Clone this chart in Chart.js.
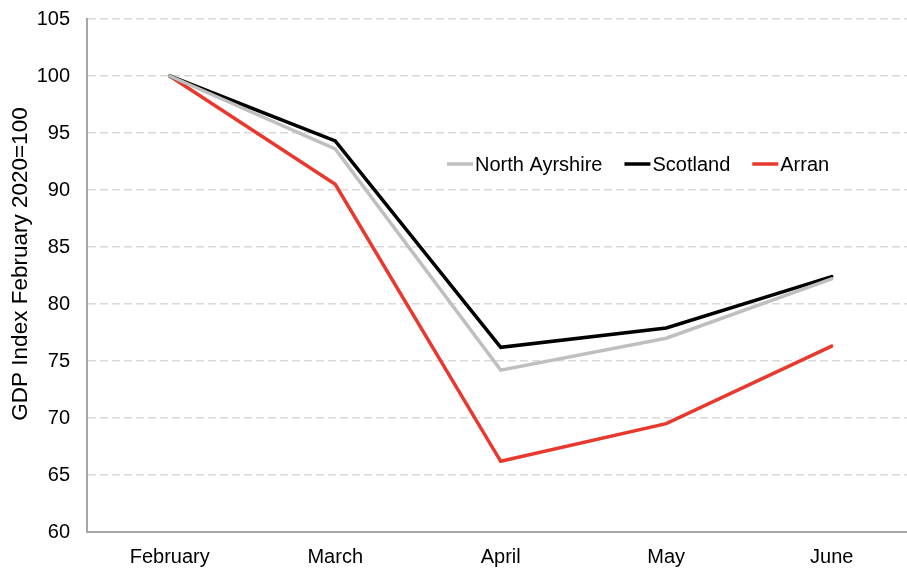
<!DOCTYPE html>
<html>
<head>
<meta charset="utf-8">
<script src="https://cdn.jsdelivr.net/npm/chart.js@4"></script>
<style>
  html, body { margin: 0; padding: 0; background: #fff; }
  #wrap { width: 907px; height: 575px; position: relative; }
</style>
</head>
<body>
<div id="wrap"><canvas id="chart"></canvas></div>
<script>
  // months on the x axis
  const months = ['February', 'March', 'April', 'May', 'June'];

  // GDP index, February 2020 = 100
  const northAyrshire = [100, 93.6, 74.2, 77.0, 82.2];
  const scotland = [100, 94.3, 76.2, 77.9, 82.4];
  const arran = [100, 90.5, 66.2, 69.5, 76.3];

  const yTicks = [60, 65, 70, 75, 80, 85, 90, 95, 100, 105];
  const yTitle = 'GDP Index February 2020=100';

  const FONT = 'Liberation Sans, Arial, sans-serif';

  function points(values) {
    return values.map((v, i) => ({ x: i, y: v }));
  }

  function series(label, values, color) {
    return {
      label,
      data: points(values),
      borderColor: color,
      backgroundColor: color,
      borderWidth: 3.5,
      pointRadius: 0,
      tension: 0,
      borderCapStyle: 'round',
      borderJoinStyle: 'miter'
    };
  }

  // legend drawn inside the plot, like the original
  const insideLegend = {
    id: 'insideLegend',
    afterDatasetsDraw(chart) {
      const ctx = chart.ctx;
      ctx.save();
      ctx.font = '20px ' + FONT;
      ctx.textBaseline = 'middle';
      ctx.fillStyle = '#000';
      let x = 447;
      const y = 164;
      chart.data.datasets.forEach(ds => {
        ctx.strokeStyle = ds.borderColor;
        ctx.lineWidth = 3.5;
        ctx.beginPath();
        ctx.moveTo(x, y);
        ctx.lineTo(x + 26, y);
        ctx.stroke();
        x += 28;
        ctx.fillText(ds.label, x, y + 1);
        x += ctx.measureText(ds.label).width + 22;
      });
      ctx.restore();
    }
  };

  // y axis title, sits a little above the plot's middle in the original
  const axisTitle = {
    id: 'axisTitle',
    afterDraw(chart) {
      const ctx = chart.ctx;
      ctx.save();
      ctx.translate(21, 264);
      ctx.rotate(-Math.PI / 2);
      ctx.font = '22.5px ' + FONT;
      ctx.textAlign = 'center';
      ctx.textBaseline = 'middle';
      ctx.fillStyle = '#000';
      ctx.fillText(yTitle, 0, 0);
      ctx.restore();
    }
  };

  new Chart(document.getElementById('chart'), {
    type: 'line',
    data: {
      datasets: [
        series('North Ayrshire', northAyrshire, '#bfbfbf'),
        series('Scotland', scotland, '#000000'),
        series('Arran', arran, '#e8392f')
      ]
    },
    plugins: [insideLegend, axisTitle],
    options: {
      responsive: true,
      maintainAspectRatio: false,
      animation: false,
      layout: { padding: { top: 19, right: 0, left: 0, bottom: 0 } },
      plugins: {
        legend: { display: false },
        tooltip: { enabled: false }
      },
      scales: {
        x: {
          type: 'linear',
          min: -0.5,
          max: 4.455,
          afterBuildTicks: axis => { axis.ticks = months.map((m, i) => ({ value: i })); },
          afterFit: axis => {
            axis.height = 43;
            axis.paddingLeft = 0;
            axis.paddingRight = 0;
          },
          grid: { display: false, drawTicks: false },
          border: { display: true, color: '#a6a6a6', width: 2 },
          ticks: {
            color: '#000',
            font: { family: FONT, size: 20 },
            padding: 13,
            maxRotation: 0,
            callback: v => months[v]
          }
        },
        y: {
          min: 60,
          max: 105,
          afterBuildTicks: axis => { axis.ticks = yTicks.map(v => ({ value: v })); },
          afterFit: axis => {
            axis.width = 87;
            axis.paddingTop = 0;
            axis.paddingBottom = 0;
          },
          grid: {
            color: '#d9d9d9',
            lineWidth: 1.5,
            drawTicks: false
          },
          border: { display: true, color: '#a6a6a6', width: 2, dash: [8, 4] },
          ticks: {
            color: '#000',
            font: { family: FONT, size: 20 },
            padding: 17
          }
        }
      }
    }
  });
</script>
</body>
</html>
